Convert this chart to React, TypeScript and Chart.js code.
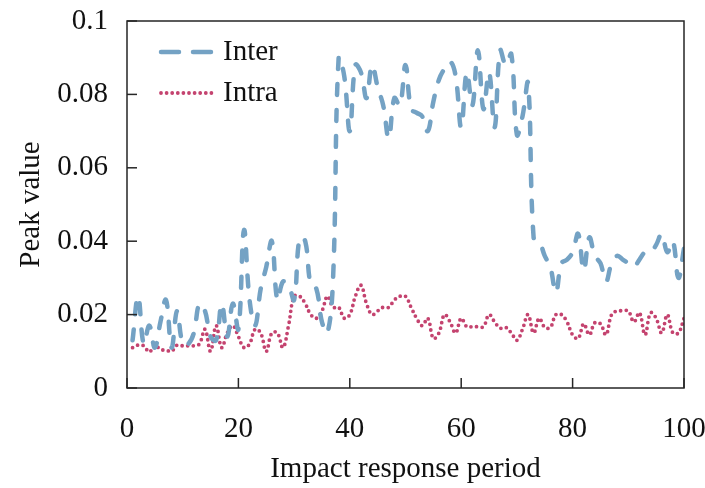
import React, { useEffect, useRef } from "react";
import { Chart, registerables } from "chart.js";

Chart.register(...registerables);

const periods = [
  1, 2, 3, 4, 5, 6, 7, 8, 9, 10, 11, 12, 13, 14, 15, 16, 17, 18, 19, 20,
  21, 22, 23, 24, 25, 26, 27, 28, 29, 30, 31, 32, 33, 34, 35, 36, 37, 38, 39, 40,
  41, 42, 43, 44, 45, 46, 47, 48, 49, 50, 51, 52, 53, 54, 55, 56, 57, 58, 59, 60,
  61, 62, 63, 64, 65, 66, 67, 68, 69, 70, 71, 72, 73, 74, 75, 76, 77, 78, 79, 80,
  81, 82, 83, 84, 85, 86, 87, 88, 89, 90, 91, 92, 93, 94, 95, 96, 97, 98, 99, 100,
];

const interValues = [
  0.013, 0.025, 0.012, 0.017, 0.011, 0.018, 0.024, 0.011, 0.021, 0.012,
  0.012, 0.015, 0.023, 0.021, 0.014, 0.013, 0.023, 0.014, 0.023, 0.016,
  0.043, 0.024, 0.017, 0.027, 0.033, 0.040, 0.024, 0.029, 0.028, 0.024,
  0.041, 0.040, 0.028, 0.027, 0.018, 0.015, 0.030, 0.090, 0.085, 0.070,
  0.088, 0.086, 0.079, 0.088, 0.082, 0.077, 0.068, 0.079, 0.077, 0.088,
  0.076, 0.075, 0.074, 0.070, 0.078, 0.084, 0.087, 0.089, 0.085, 0.071,
  0.086, 0.077, 0.092, 0.076, 0.086, 0.071, 0.092, 0.088, 0.091, 0.069,
  0.074, 0.083, 0.041, 0.040, 0.036, 0.033, 0.026, 0.034, 0.035, 0.037,
  0.042, 0.032, 0.041, 0.036, 0.034, 0.029, 0.034, 0.036, 0.035, 0.034,
  0.033, 0.035, 0.037, 0.037, 0.039, 0.042, 0.037, 0.040, 0.030, 0.038,
];

const intraValues = [
  0.011, 0.0117, 0.0115, 0.0098, 0.0117, 0.0105, 0.0103, 0.010, 0.0117, 0.0115,
  0.0115, 0.0115, 0.012, 0.016, 0.010, 0.017, 0.011, 0.015, 0.017, 0.014,
  0.011, 0.012, 0.016, 0.015, 0.010, 0.015, 0.015, 0.011, 0.017, 0.025,
  0.025, 0.023, 0.020, 0.019, 0.021, 0.025, 0.022, 0.022, 0.019, 0.020,
  0.025, 0.028, 0.023, 0.020, 0.021, 0.022, 0.022, 0.024, 0.025, 0.025,
  0.022, 0.019, 0.017, 0.019, 0.0135, 0.015, 0.020, 0.018, 0.015, 0.019,
  0.0167, 0.0167, 0.0167, 0.0167, 0.020, 0.018, 0.0163, 0.0165, 0.015, 0.013,
  0.016, 0.020, 0.015, 0.019, 0.0165, 0.0165, 0.020, 0.020, 0.018, 0.0145,
  0.0135, 0.0175, 0.0145, 0.0178, 0.0175, 0.0145, 0.020, 0.021, 0.021, 0.021,
  0.018, 0.0205, 0.0145, 0.0205, 0.019, 0.015, 0.020, 0.015, 0.015, 0.019,
];

const seriesNames = ["Inter", "Intra"];
const xTickLabels = ["0", "20", "40", "60", "80", "100"];
const yTickLabels = ["0", "0.02", "0.04", "0.06", "0.08", "0.1"];
const xTitle = "Impact response period";
const yTitle = "Peak value";

const FONT = "'Liberation Serif', 'Times New Roman', serif";
const INTER_COLOR = "#74a2c4";
const INTRA_COLOR = "#c4436f";
const AXIS_COLOR = "#262626";
const legendDashes = [[18, 14], [0, 5.6]];

const framePlugin = {
  id: "frameAndLegend",
  afterDraw(chart: any) {
    const { ctx, chartArea, scales } = chart;
    const { left, right, top, bottom } = chartArea;
    ctx.save();
    ctx.strokeStyle = AXIS_COLOR;
    ctx.lineWidth = 1.5;
    ctx.setLineDash([]);
    const tl = 10;
    scales.x.ticks.forEach((t: any) => {
      const px = scales.x.getPixelForValue(t.value);
      ctx.beginPath();
      ctx.moveTo(px, bottom);
      ctx.lineTo(px, bottom - tl);
      ctx.stroke();
    });
    scales.y.ticks.forEach((t: any) => {
      const py = scales.y.getPixelForValue(t.value);
      ctx.beginPath();
      ctx.moveTo(left, py);
      ctx.lineTo(left + tl, py);
      ctx.stroke();
    });
    ctx.strokeRect(left, top, right - left, bottom - top);

    const items = chart.data.datasets;
    const lx0 = left + 34;
    const lx1 = left + 88;
    const ys = [top + 31, top + 72];
    items.forEach((ds: any, i: number) => {
      const y = ys[i];
      ctx.strokeStyle = ds.borderColor;
      ctx.lineWidth = ds.borderWidth;
      ctx.lineCap = "round";
      ctx.setLineDash(legendDashes[i]);
      ctx.lineDashOffset = 0;
      ctx.beginPath();
      ctx.moveTo(lx0, y);
      ctx.lineTo(lx1, y);
      ctx.stroke();
      ctx.setLineDash([]);
      ctx.fillStyle = "#111";
      ctx.textBaseline = "middle";
      ctx.textAlign = "left";
      ctx.font = `29px ${FONT}`;
      ctx.fillText(ds.label, lx1 + 8, y);
    });
    ctx.restore();
  },
};

export default function App() {
  const canvasRef = useRef<HTMLCanvasElement | null>(null);

  useEffect(() => {
    const canvas = canvasRef.current;
    if (!canvas) return;
    const chart = new Chart(canvas, {
      type: "line",
      data: {
        datasets: [
          {
            label: seriesNames[0],
            data: periods.map((p, i) => ({ x: p, y: interValues[i] })),
            borderColor: INTER_COLOR,
            borderWidth: 4.5,
            borderDash: [11, 15],
            borderCapStyle: "round",
            pointRadius: 0,
            tension: 0.4,
            fill: false,
          },
          {
            label: seriesNames[1],
            data: periods.map((p, i) => ({ x: p, y: intraValues[i] })),
            borderColor: INTRA_COLOR,
            borderWidth: 3.8,
            borderDash: [0, 5.6],
            borderCapStyle: "round",
            pointRadius: 0,
            tension: 0.4,
            fill: false,
          },
        ],
      },
      options: {
        animation: false,
        responsive: false,
        maintainAspectRatio: false,
        layout: { padding: { left: 0, right: 21, top: 21, bottom: 0 } },
        plugins: {
          legend: { display: false },
          tooltip: { enabled: false },
        },
        scales: {
          x: {
            type: "linear",
            min: 0,
            max: 100,
            grid: { display: false, drawTicks: false },
            border: { display: false },
            ticks: {
              stepSize: 20,
              padding: 27,
              color: "#111",
              font: { family: FONT, size: 29, lineHeight: 1 },
              maxRotation: 0,
              callback: (v: any) => xTickLabels[Math.round(Number(v) / 20)],
            },
            title: {
              display: true,
              text: xTitle,
              color: "#111",
              font: { family: FONT, size: 29, lineHeight: 1 },
              padding: { top: 0, bottom: 4 },
            },
            afterFit: (scale: any) => {
              scale.height = 100;
              scale.paddingLeft = 0;
              scale.paddingRight = 0;
            },
          },
          y: {
            type: "linear",
            min: 0,
            max: 0.1,
            grid: { display: false, drawTicks: false },
            border: { display: false },
            ticks: {
              stepSize: 0.02,
              padding: 19,
              color: "#111",
              font: { family: FONT, size: 29, lineHeight: 1 },
              callback: (v: any) => yTickLabels[Math.round(Number(v) / 0.02)],
            },
            title: {
              display: true,
              text: yTitle,
              color: "#111",
              font: { family: FONT, size: 29, lineHeight: 1 },
              padding: { top: 17, bottom: 0 },
            },
            afterFit: (scale: any) => {
              scale.width = 127;
              scale.paddingTop = 0;
              scale.paddingBottom = 0;
            },
          },
        },
      },
      plugins: [framePlugin],
    });
    return () => chart.destroy();
  }, []);

  return (
    <div style={{ position: "absolute", left: 0, top: 0, width: 705, height: 488, background: "#fff" }}>
      <canvas ref={canvasRef} width={705} height={488} style={{ display: "block" }} />
    </div>
  );
}
